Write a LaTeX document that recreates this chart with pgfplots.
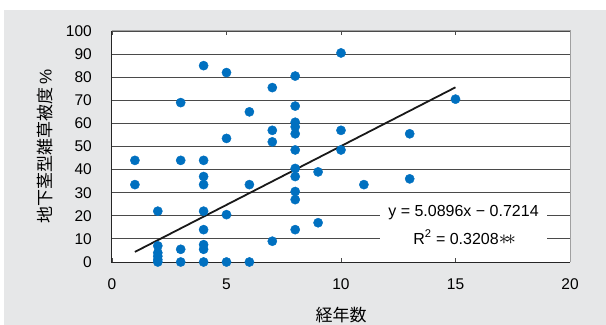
\documentclass[border=0pt]{standalone}
\usepackage{fontspec}
\setmainfont{Liberation Sans}
\newfontfamily\cjk{Noto Sans CJK JP}
\usepackage{pgfplots}
\pgfplotsset{compat=1.18}
\definecolor{bggray}{HTML}{E6E7E8}
\definecolor{ptblue}{HTML}{0070C0}
\definecolor{gridc}{HTML}{4A4A4A}
\definecolor{framegray}{HTML}{A0A0A0}
\begin{document}
\begin{tikzpicture}
\useasboundingbox (-112bp,-63bp) rectangle (494bp,262bp);
\fill[white] (-112bp,-63bp) rectangle (494bp,262bp);
\fill[bggray] (-108bp,-63bp) rectangle (494bp,252bp);
\begin{axis}[
  scale only axis,
  width=458bp, height=231bp,
  xmin=0, xmax=20, ymin=0, ymax=100,
  xtick={0,5,10,15,20},
  ytick={0,10,...,100},
  axis background/.style={fill=white},
  axis line style={draw=none},
  ymajorgrids,
  major grid style={gridc, line width=0.8bp},
  tick align=inside,
  xtick style={gridc, line width=0.8bp},
  major tick length=4bp,
  ytick style={draw=none},
  /pgf/number format/assume math mode=true,
  tick label style={font=\fontsize{15.5bp}{18bp}\selectfont},
  xticklabel style={anchor=center, yshift=-22bp},
  yticklabel style={anchor=east, inner sep=0pt, xshift=-20bp},
  xlabel={\cjk 経年数},
  ylabel={\cjk 地下茎型雑草被度\,\rmfamily\%},
  label style={font=\fontsize{17bp}{20bp}\selectfont},
  xlabel style={at={(axis description cs:0.5,-0.229)}, anchor=center},
  ylabel style={at={(axis description cs:-0.146,0.5)}, anchor=center},
  clip=false,
]
\addplot[only marks, mark=*, mark size=4.6bp, ptblue, mark options={draw=ptblue, fill=ptblue}] coordinates {
 (1,44) (1,33.5)
 (2,22) (2,7) (2,4) (2,2.5) (2,1) (2,0)
 (3,69) (3,44) (3,5.5) (3,0)
 (4,85) (4,44) (4,37) (4,33.5) (4,22) (4,14) (4,7.5) (4,5.5) (4,0)
 (5,82) (5,53.5) (5,20.5) (5,0)
 (6,65) (6,33.5) (6,0)
 (7,75.5) (7,57) (7,52) (7,9)
 (8,80.5) (8,67.5) (8,60.5) (8,58.5) (8,55.5) (8,48.5) (8,40.5) (8,37) (8,30.5) (8,27) (8,14)
 (9,39) (9,17)
 (10,90.5) (10,57) (10,48.5)
 (11,33.5)
 (13,55.5) (13,36)
 (15,70.5)
};
\addplot[black!90, line width=1.8bp] coordinates {(1,4.37) (15,75.62)};
\fill[white] (axis cs:11.7,4) rectangle (axis cs:19.0,26);
\node[font=\fontsize{16bp}{18bp}\selectfont, anchor=center] at (axis cs:15.35,21.6) {y = 5.0896x − 0.7214};
\node[font=\fontsize{16bp}{18bp}\selectfont, anchor=center] at (axis cs:15.4,10.8) {R\textsuperscript{2} = 0.3208{\fontsize{22bp}{22bp}\selectfont$\ast\!\ast$}};
\draw[framegray, line width=1bp] (rel axis cs:0,1) -- (rel axis cs:1,1) -- (rel axis cs:1,0);
\draw[black!85, line width=1bp] (rel axis cs:0,1) -- (rel axis cs:0,0) -- (rel axis cs:1,0);
\end{axis}
\end{tikzpicture}
\end{document}
